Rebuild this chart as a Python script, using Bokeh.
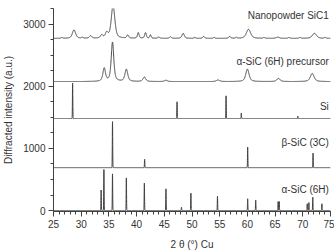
import numpy as np
from bokeh.plotting import figure
from bokeh.models import SingleIntervalTicker, ColumnDataSource
from bokeh.core.properties import value
from bokeh.embed import file_html
from bokeh.resources import INLINE

# ---- data ----
# alpha-SiC (6H) reference pattern (baseline 0)
a6h_pos = [33.6, 34.1, 35.65, 38.15, 41.4, 45.3, 48.1, 49.8, 54.6, 60.05, 61.5, 65.55, 65.75, 70.8, 71.1, 71.8, 73.45]
a6h_h   = [330, 660, 590, 525, 440, 350, 55, 280, 230, 190, 170, 145, 145, 110, 130, 215, 110]
a6h_base = 0

# beta-SiC (3C)
b3c_pos = [35.65, 41.45, 60.05, 71.85]
b3c_h   = [740, 135, 330, 235]
b3c_base = 690

# Si
si_pos = [28.45, 47.3, 56.15, 58.9, 69.1]
si_h   = [570, 270, 365, 90, 40]
si_base = 1480

# alpha-SiC (6H) precursor
pre_pos  = [34.15, 35.65, 38.15, 41.4, 45.3, 54.7, 60.0, 65.6, 71.7]
pre_h    = [210, 630, 195, 70, 20, 25, 200, 50, 130]
pre_fwhm = [0.55, 0.55, 0.6, 0.6, 0.6, 0.7, 0.7, 0.7, 0.8]
pre_base = 2075

# Nanopowder SiC1
nano_pos  = [26.5, 28.7, 30.2, 31.7, 33.7, 34.6, 35.75, 38.4, 40.3, 41.6, 42.5, 44.0, 46.1, 48.4, 50.5, 52.1, 54.0, 56.8, 58.0, 60.2, 63.0, 65.5, 67.5, 69.5, 72.1, 74.0]
nano_h    = [12, 135, 15, 40, 50, 85, 530, 50, 90, 90, 55, 20, 25, 80, 15, 30, 15, 30, 15, 145, 15, 20, 15, 15, 80, 15]
nano_fwhm = [0.3, 0.7, 0.3, 0.5, 0.5, 0.6, 0.75, 0.4, 0.35, 0.35, 0.3, 0.4, 0.4, 0.5, 0.3, 0.4, 0.3, 0.4, 0.3, 0.9, 0.3, 0.6, 0.3, 0.3, 0.9, 0.3]
nano_base = 2770

labels   = ["Nanopowder SiC1", "\u03b1-SiC (6H) precursor", "Si", "\u03b2-SiC (3C)", "\u03b1-SiC (6H)"]
label_y  = [3145, 2400, 1680, 1100, 340]

x_ticks_interval = 5
y_ticks_interval = 1000

# ---- profile rendering ----
tt = np.arange(25.0, 75.0001, 0.01)

def profile(pos, h, fwhm, base, eta):
    y = np.full_like(tt, float(base))
    for p0, h0, w0 in zip(pos, h, fwhm):
        d = (tt - p0) / (w0 / 2.0)
        lor = 1.0 / (1.0 + d * d)
        gau = np.exp(-np.log(2) * d * d)
        y += h0 * (eta * lor + (1 - eta) * gau)
    return y

sharp = 0.08
curves = [
    profile(a6h_pos, a6h_h, [sharp] * len(a6h_pos), a6h_base, 0.0),
    profile(b3c_pos, b3c_h, [sharp] * len(b3c_pos), b3c_base, 0.0),
    profile(si_pos, si_h, [sharp] * len(si_pos), si_base, 0.0),
    profile(pre_pos, pre_h, pre_fwhm, pre_base, 0.6),
    profile(nano_pos, nano_h, nano_fwhm, nano_base, 0.5),
]

FONT = "Liberation Sans"
INK = "#404040"

p = figure(width=334, height=252, x_range=(25, 75), y_range=(-15, 3250),
           output_backend="svg", toolbar_location=None,
           min_border_left=47, min_border_right=4, min_border_top=8, min_border_bottom=41)
p.outline_line_color = None
p.xgrid.visible = False
p.ygrid.visible = False
p.background_fill_color = "white"
p.border_fill_color = "white"

for c in curves:
    p.line(tt, c, line_color=INK, line_width=1)

src = ColumnDataSource(dict(x=[74.7] * len(labels), y=label_y, t=labels))
p.text(x="x", y="y", text="t", source=src, text_align="right", text_baseline="middle",
       text_font=value(FONT), text_font_size="10px", text_color="#333333")

p.xaxis.ticker = SingleIntervalTicker(interval=x_ticks_interval, num_minor_ticks=5)
p.yaxis.ticker = SingleIntervalTicker(interval=y_ticks_interval, num_minor_ticks=4)

for ax in (p.xaxis[0], p.yaxis[0]):
    ax.axis_line_color = INK
    ax.major_tick_line_color = INK
    ax.minor_tick_line_color = INK
    ax.major_tick_in = 0
    ax.major_tick_out = 5
    ax.minor_tick_in = 0
    ax.minor_tick_out = 3
    ax.major_label_text_font = FONT
    ax.major_label_text_font_size = "10px"
    ax.major_label_text_color = "#333333"
    ax.axis_label_text_font = FONT
    ax.axis_label_text_font_size = "10px"
    ax.axis_label_text_font_style = "normal"
    ax.axis_label_text_color = "#333333"
    ax.major_label_standoff = 3

p.xaxis.axis_label = "2 \u03b8 (\u00b0) Cu"
p.yaxis.axis_label = "Diffracted intensity (a.u.)"
p.xaxis.axis_label_standoff = 8
p.yaxis.axis_label_standoff = 6

open("out.html", "w").write(file_html(p, INLINE))
